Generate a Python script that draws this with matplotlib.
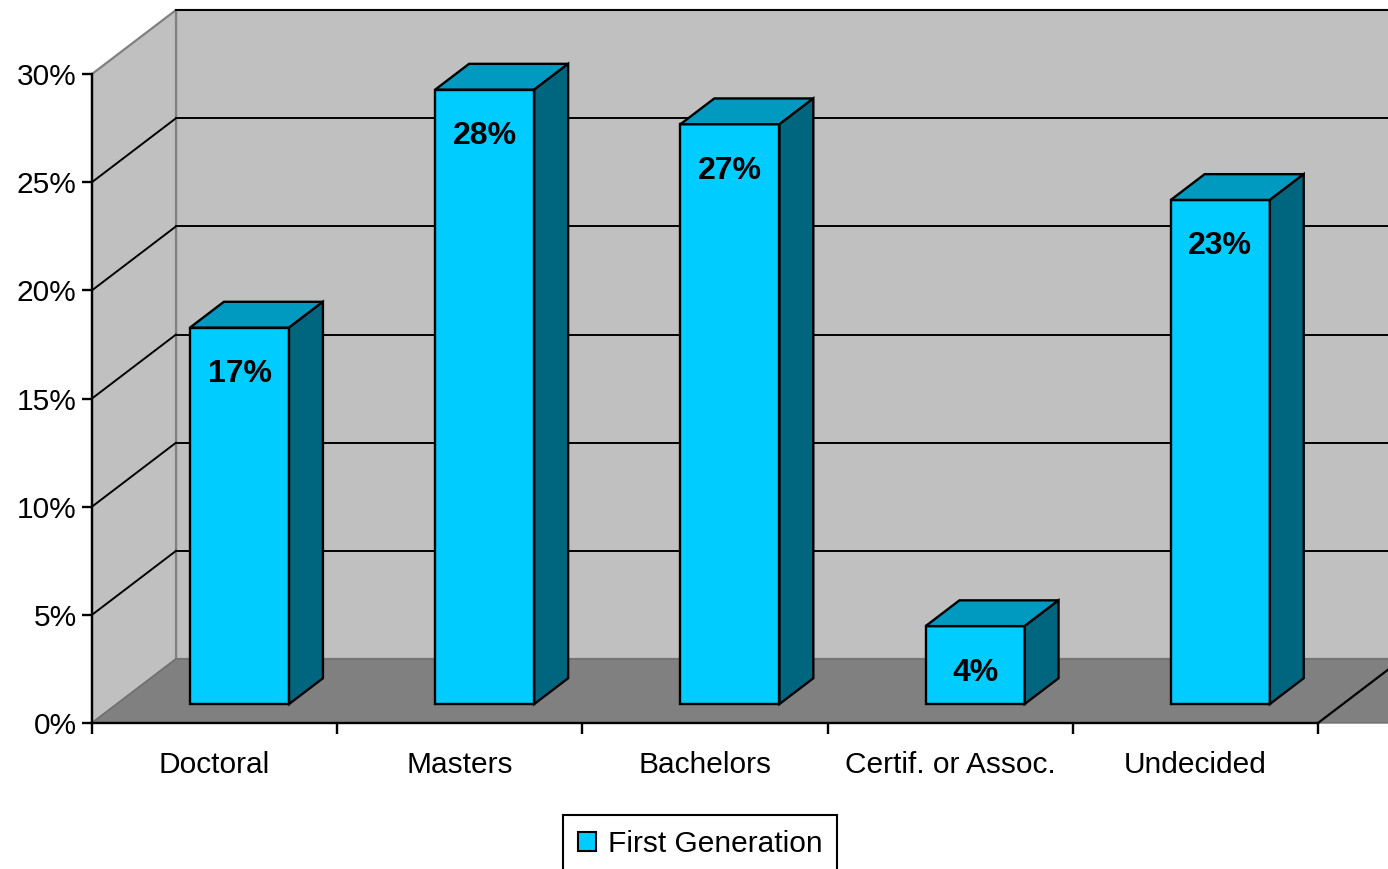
import matplotlib
matplotlib.use('Agg')
import matplotlib.pyplot as plt
from matplotlib.patches import Polygon, Patch

plt.rcParams['font.family'] = ['Liberation Sans', 'DejaVu Sans']

categories = ['Doctoral', 'Masters', 'Bachelors', 'Certif. or Assoc.', 'Undecided']
values = [17.4, 28.4, 26.8, 3.6, 23.3]
series_name = 'First Generation'
y_ticks = [0, 5, 10, 15, 20, 25, 30]

# 3D look: full depth offset of the back wall, in data units
dx, dy = 0.3426, 2.957
f0, f1 = 0.297, 0.70      # bar front / back as fraction of depth
bar_w = 0.404

front_c = '#00CCFF'
top_c = '#0099C0'
side_c = '#006680'

W, H = 1388, 869
fig = plt.figure(figsize=(W / 100, H / 100), dpi=100)
ax = fig.add_axes([92 / W, (H - 723) / H, 1226 / W, (723 - 74) / H])
ax.set_xlim(0, len(categories))
ax.set_ylim(0, 30)
ax.patch.set_visible(False)

n = len(categories)
top = y_ticks[-1]

def poly(pts, **kw):
    p = Polygon(pts, closed=True, clip_on=False, **kw)
    ax.add_patch(p)
    return p

# walls and floor
poly([(dx, dy), (n + dx + 1, dy), (n + dx + 1, top + dy), (dx, top + dy)],
     facecolor='#C0C0C0', edgecolor='#808080', lw=1.6, zorder=0)
poly([(0, 0), (dx, dy), (dx, top + dy), (0, top)],
     facecolor='#C0C0C0', edgecolor='#808080', lw=1.6, zorder=0.2)
poly([(0, 0), (dx, dy), (n + dx + 1, dy), (n + 1, 0)],
     facecolor='#808080', edgecolor='#707070', lw=1, zorder=0.5)
ax.plot([n, n + dx], [0, dy], color='black', lw=1.6, clip_on=False, zorder=0.6)

for t in y_ticks[1:]:
    ax.plot([dx, n + dx + 1], [t + dy, t + dy], color='black', lw=1.4,
            clip_on=False, zorder=0.3)
    if t < top:
        ax.plot([0, dx], [t, t + dy], color='black', lw=1.4,
                clip_on=False, zorder=0.3)

# bars
for i, v in enumerate(values):
    xl = i + 0.5 - bar_w / 2 + f0 * dx
    xr = xl + bar_w
    y0 = f0 * dy
    ox, oy = (f1 - f0) * dx, (f1 - f0) * dy
    poly([(xl, y0), (xr, y0), (xr, y0 + v), (xl, y0 + v)],
         facecolor=front_c, edgecolor='black', lw=1.7, zorder=3)
    poly([(xl, y0 + v), (xr, y0 + v), (xr + ox, y0 + v + oy), (xl + ox, y0 + v + oy)],
         facecolor=top_c, edgecolor='black', lw=1.7, zorder=3)
    poly([(xr, y0), (xr + ox, y0 + oy), (xr + ox, y0 + v + oy), (xr, y0 + v)],
         facecolor=side_c, edgecolor='black', lw=1.7, zorder=3)
    ax.text((xl + xr) / 2, y0 + v - 2.15, f'{round(v)}%', ha='center', va='center',
            fontsize=23, fontweight='bold', zorder=4)

# axes
for s in ['top', 'right']:
    ax.spines[s].set_visible(False)
for s in ['left', 'bottom']:
    ax.spines[s].set_linewidth(1.7)
    ax.spines[s].set_zorder(5)

ax.set_yticks(y_ticks)
ax.set_yticklabels([f'{t}%' for t in y_ticks])
ax.set_xticks(range(n + 1))
ax.set_xticklabels([])
ax.set_xticks([i + 0.5 for i in range(n)], minor=True)
ax.set_xticklabels(categories, minor=True)
ax.tick_params(axis='y', length=7, width=1.7, labelsize=21.5, pad=4)
ax.tick_params(axis='x', which='major', length=8, width=1.7)
ax.tick_params(axis='x', which='minor', length=0, labelsize=21.5, pad=20)

leg = fig.legend(handles=[Patch(facecolor=front_c, edgecolor='black', lw=1.5)],
                 labels=[series_name], loc='upper left',
                 bbox_to_anchor=(563 / W, 1 - 815 / H), fontsize=21.5,
                 frameon=True, fancybox=False, framealpha=1, edgecolor='black',
                 handlelength=0.6, handleheight=0.6, handletextpad=0.4,
                 borderpad=0.5, borderaxespad=0)
leg.get_frame().set_linewidth(1.5)

fig.savefig('out.png', dpi=100)
